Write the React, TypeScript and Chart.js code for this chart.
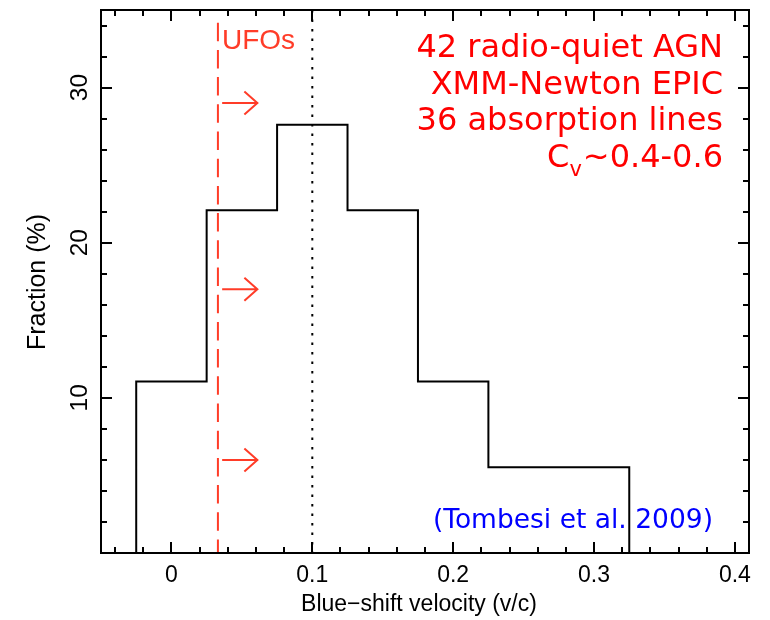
import React, { useEffect, useRef } from "react";
import { Chart, registerables } from "chart.js";

Chart.register(...registerables);

// ---- data ----
const binEdges = [-0.025, 0.025, 0.075, 0.125, 0.175, 0.225, 0.275, 0.325];
const fractions = [11.05, 22.1, 27.6, 22.1, 11.05, 5.52, 5.52];
const ufoThreshold = 0.033;
const meanVelocity = 0.1;
const arrowYs = [29, 17, 6];
const arrowXs = [0.036, 0.061];
const xTickValues = [0, 0.1, 0.2, 0.3, 0.4];
const xTickLabels = ["0", "0.1", "0.2", "0.3", "0.4"];
const yTickValues = [10, 20, 30];
const yTickLabels = ["10", "20", "30"];
const xRange = [-0.05, 0.41];
const yRange = [0, 35];
const infoLines = ["42 radio-quiet AGN", "XMM-Newton EPIC", "36 absorption lines"];
const cvMain = "C";
const cvSub = "v";
const cvRest = "~0.4-0.6";
const ufoLabel = "UFOs";
const refLabel = "(Tombesi et al. 2009)";
const xTitle = "Blue\u2212shift velocity (v/c)";
const yTitle = "Fraction (%)";

const UFO_COLOR = "#ff3c28";

function histogramPoints() {
  const pts: { x: number; y: number }[] = [{ x: binEdges[0], y: 0 }];
  for (let i = 0; i < fractions.length; i++) {
    pts.push({ x: binEdges[i], y: fractions[i] });
    pts.push({ x: binEdges[i + 1], y: fractions[i] });
  }
  pts.push({ x: binEdges[binEdges.length - 1], y: 0 });
  return pts;
}

const decorPlugin = {
  id: "decor",
  afterDraw(chart: any) {
    const ctx = chart.ctx as CanvasRenderingContext2D;
    const xs = chart.scales.x;
    const ys = chart.scales.y;
    const { left, right, top, bottom } = chart.chartArea;
    ctx.save();

    // arrows
    ctx.strokeStyle = UFO_COLOR;
    ctx.lineWidth = 2;
    for (const ay of arrowYs) {
      const py = ys.getPixelForValue(ay);
      const x0 = xs.getPixelForValue(arrowXs[0]);
      const x1 = xs.getPixelForValue(arrowXs[1]);
      ctx.beginPath();
      ctx.moveTo(x0, py);
      ctx.lineTo(x1, py);
      ctx.moveTo(x1 - 13, py - 11.5);
      ctx.lineTo(x1, py);
      ctx.lineTo(x1 - 13, py + 11.5);
      ctx.stroke();
    }

    // frame
    ctx.strokeStyle = "#000";
    ctx.lineWidth = 2;
    ctx.strokeRect(left, top, right - left, bottom - top);

    // ticks
    ctx.beginPath();
    for (let v = -0.04; v <= 0.405; v += 0.02) {
      const vv = Math.round(v * 100) / 100;
      const major = Math.abs(Math.round(vv * 10) - vv * 10) < 1e-6;
      const len = major ? 11 : 6;
      const px = Math.round(xs.getPixelForValue(vv));
      ctx.moveTo(px, bottom);
      ctx.lineTo(px, bottom - len);
      ctx.moveTo(px, top);
      ctx.lineTo(px, top + len);
    }
    for (let v = 2; v <= 34; v += 2) {
      const major = v % 10 === 0;
      const len = major ? 11 : 6;
      const py = Math.round(ys.getPixelForValue(v));
      ctx.moveTo(left, py);
      ctx.lineTo(left + len, py);
      ctx.moveTo(right, py);
      ctx.lineTo(right - len, py);
    }
    ctx.stroke();

    // tick labels
    ctx.fillStyle = "#000";
    ctx.font = '23px "Liberation Sans"';
    ctx.textAlign = "center";
    ctx.textBaseline = "alphabetic";
    xTickValues.forEach((v, i) => {
      ctx.fillText(xTickLabels[i], xs.getPixelForValue(v), 582);
    });
    ctx.font = '24.5px "Liberation Sans"';
    yTickValues.forEach((v, i) => {
      ctx.save();
      ctx.translate(87, ys.getPixelForValue(v));
      ctx.rotate(-Math.PI / 2);
      ctx.fillText(yTickLabels[i], 0, 0);
      ctx.restore();
    });

    // axis titles
    ctx.font = '23px "Liberation Sans"';
    ctx.fillText(xTitle, 419, 611);
    ctx.save();
    ctx.font = '25px "Liberation Sans"';
    ctx.translate(45, 282);
    ctx.rotate(-Math.PI / 2);
    ctx.fillText(yTitle, 0, 0);
    ctx.restore();

    // info text
    ctx.fillStyle = "#ff0000";
    ctx.font = '32px "DejaVu Sans"';
    ctx.textAlign = "right";
    const baselines = [57, 93.5, 130, 167];
    infoLines.forEach((t, i) => ctx.fillText(t, 723, baselines[i]));
    ctx.textAlign = "left";
    const wRest = ctx.measureText(cvRest).width;
    const wC = ctx.measureText(cvMain).width;
    ctx.font = '21px "DejaVu Sans"';
    const wV = ctx.measureText(cvSub).width;
    let cx = 723 - wRest - wV - wC - 1;
    ctx.font = '32px "DejaVu Sans"';
    ctx.fillText(cvMain, cx, baselines[3]);
    cx += wC;
    ctx.font = '21px "DejaVu Sans"';
    ctx.fillText(cvSub, cx, baselines[3] + 9);
    cx += wV + 1;
    ctx.font = '32px "DejaVu Sans"';
    ctx.fillText(cvRest, cx, baselines[3]);

    // UFOs label
    ctx.fillStyle = UFO_COLOR;
    ctx.font = '28px "Liberation Sans"';
    ctx.fillText(ufoLabel, 222, 49);

    // reference
    ctx.fillStyle = "#0000ff";
    ctx.font = '26.5px "DejaVu Sans"';
    ctx.textAlign = "right";
    ctx.fillText(refLabel, 713, 528);

    ctx.restore();
  },
};

export default function App() {
  const ref = useRef<HTMLCanvasElement>(null);
  useEffect(() => {
    document.body.style.margin = "0";
    const canvas = ref.current!;
    const chart = new Chart(canvas, {
      type: "scatter",
      data: {
        datasets: [
          {
            data: [
              { x: meanVelocity, y: yRange[1] },
              { x: meanVelocity, y: yRange[0] },
            ],
            showLine: true,
            borderColor: "#000",
            borderWidth: 2,
            borderDash: [2.5, 7],
            pointRadius: 0,
          },
          {
            data: [
              { x: ufoThreshold, y: 34.18 },
              { x: ufoThreshold, y: yRange[0] },
            ],
            showLine: true,
            borderColor: UFO_COLOR,
            borderWidth: 2,
            borderDash: [18.5, 8.7],
            pointRadius: 0,
          },
          {
            data: histogramPoints(),
            showLine: true,
            borderColor: "#000",
            borderWidth: 2,
            pointRadius: 0,
            tension: 0,
          },
        ],
      },
      options: {
        animation: false,
        responsive: false,
        devicePixelRatio: 1,
        layout: { padding: { top: 10, right: 21, left: 0, bottom: 0 } },
        plugins: { legend: { display: false }, tooltip: { enabled: false } },
        scales: {
          x: {
            type: "linear",
            min: xRange[0],
            max: xRange[1],
            grid: { display: false },
            border: { display: false },
            ticks: { display: false },
            afterFit: (s: any) => {
              s.height = 67;
            },
          },
          y: {
            type: "linear",
            min: yRange[0],
            max: yRange[1],
            grid: { display: false },
            border: { display: false },
            ticks: { display: false },
            afterFit: (s: any) => {
              s.width = 101;
            },
          },
        },
      },
      plugins: [decorPlugin],
    });
    return () => chart.destroy();
  }, []);
  return (
    <canvas
      ref={ref}
      width={770}
      height={620}
      style={{ display: "block", width: 770, height: 620, background: "#fff" }}
    />
  );
}
